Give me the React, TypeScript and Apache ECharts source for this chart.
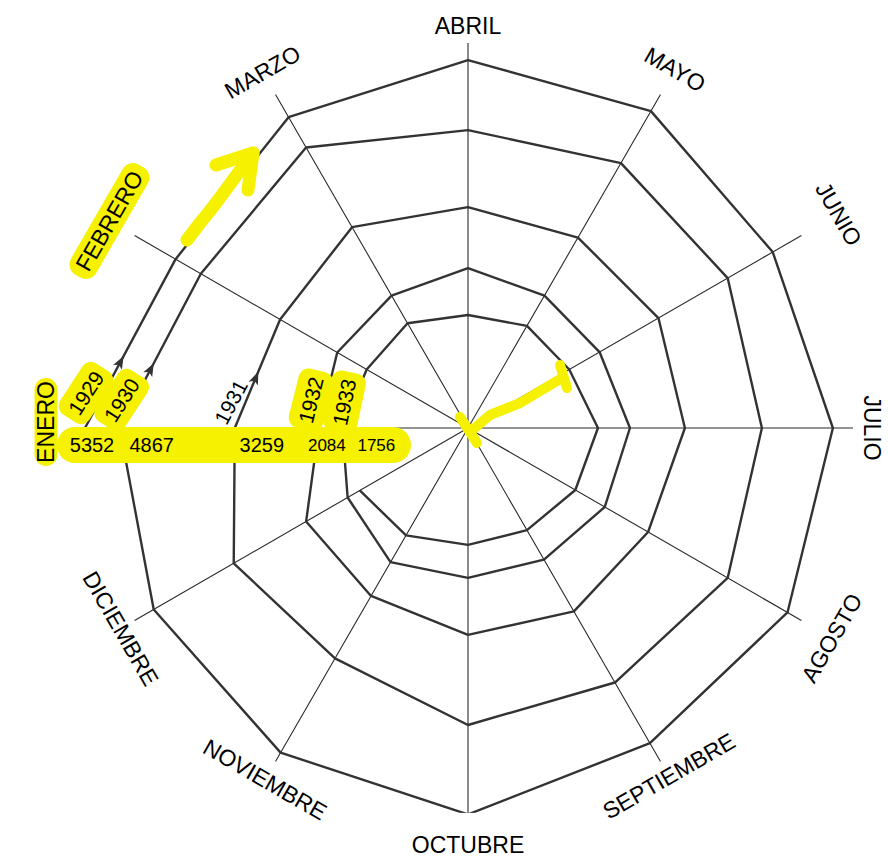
import React, { useEffect, useRef } from 'react';
import * as echarts from 'echarts';

// ---- data ----
const months = ['ENERO', 'FEBRERO', 'MARZO', 'ABRIL', 'MAYO', 'JUNIO', 'JULIO', 'AGOSTO', 'SEPTIEMBRE', 'OCTUBRE', 'NOVIEMBRE', 'DICIEMBRE'];
const years = ['1929', '1930', '1931', '1932', '1933'];
const trade1929 = [5352, 4718, 5015, 5141, 5113, 4917, 5099, 5155, 5085, 5400, 5238, 5071];
const trade1930 = [4867, 4311, 4526, 4163, 4275, 4190, 4107, 4190, 4107, 4150, 3717, 3780];
const trade1931 = [3259, 3032, 3241, 3087, 3073, 3073, 3031, 2906, 2960, 2890, 2710, 2612];
const trade1932 = [2084, 2110, 2137, 2235, 2137, 2123, 2263, 2207, 2123, 2095, 2165, 1942];
const trade1933 = [1756, 1635, 1690, 1579, 1648, 1634, 1816, 1732, 1648, 1634, 1732, 1746];
const tradeByYear = [trade1929, trade1930, trade1931, trade1932, trade1933];

// ---- layout / style ----
const CENTER = [468, 428];
const RADIUS = 385;
const R_MAX = 5380;
const monthLabelPx = [422, 414, 411, 402, 414, 428, 404, 420, 402, 417, 406, 401];
const monthLabelShift = [[0, -6], [0, 0], [0, 0], [0, 0], [0, 0], [0, 0], [0, 0], [0, 0], [0, 0], [0, 0], [0, 0], [0, 0]];
const YELLOW = '#f5f100';
const FONT = '"Liberation Sans", Arial, sans-serif';
const monthRotate = [90, 60, 30, 0, -30, -60, -90, 60, 30, 0, -30, -60];
const monthHighlight = [true, true, false, false, false, false, false, false, false, false, false, false];
const yearRotate = [57, 57, 62, 76, 78];
const yearOffset = [[1, -35], [2, -28], [-4, -26], [-8, -28], [2, -26]];
const yearHighlight = [true, true, false, true, true];
const numOffset = [7, 32, 27, 8, 34];
const numFont = [20, 20, 20, 17, 17];
const arrowT = [0.39, 0.38, 0.46];

export default function App() {
  const ref = useRef<HTMLDivElement>(null);
  useEffect(() => {
    const chart = echarts.init(ref.current!, null, { renderer: 'svg' });
    const spiral: number[][] = [];
    tradeByYear.forEach((arr) => arr.forEach((v, m) => spiral.push([v, m])));

    const monthData = months.map((name, i) => [(monthLabelPx[i] / RADIUS) * R_MAX, i]);
    const annoData = years.map((y, i) => [tradeByYear[i][0], 0, tradeByYear[i][1]]);

    chart.setOption({
      animation: false,
      backgroundColor: '#fff',
      polar: { center: CENTER, radius: RADIUS },
      angleAxis: {
        type: 'value',
        min: 0,
        max: 12,
        interval: 1,
        startAngle: 180,
        clockwise: true,
        axisLine: { show: false },
        axisTick: { show: false },
        axisLabel: { show: false },
        splitLine: { show: true, lineStyle: { color: '#2a2a2a', width: 1.1 } },
      },
      radiusAxis: {
        type: 'value',
        min: 0,
        max: R_MAX,
        axisLine: { show: false },
        axisTick: { show: false },
        axisLabel: { show: false },
        splitLine: { show: false },
      },
      graphic: [
        {
          type: 'rect',
          z: 3,
          shape: { x: 57, y: 427, width: 354, height: 36, r: 18 },
          style: { fill: YELLOW },
        },
        {
          type: 'polyline',
          z: 3,
          shape: { points: [[187, 240], [200, 223], [213, 207], [233, 180], [253, 153]] },
          style: { stroke: YELLOW, lineWidth: 13, lineCap: 'round', lineJoin: 'round', fill: 'none' },
        },
        {
          type: 'polyline',
          z: 3,
          shape: { points: [[216, 165], [253, 153], [248, 190]] },
          style: { stroke: YELLOW, lineWidth: 13, lineCap: 'round', lineJoin: 'round', fill: 'none' },
        },
        {
          type: 'polyline',
          z: 3,
          shape: { points: [[460, 417], [477, 443]] },
          style: { stroke: YELLOW, lineWidth: 10, lineCap: 'round', fill: 'none' },
        },
        {
          type: 'polyline',
          z: 3,
          shape: { points: [[470, 432], [490, 415], [520, 403], [562, 378]] },
          style: { stroke: YELLOW, lineWidth: 10, lineCap: 'round', lineJoin: 'round', fill: 'none' },
        },
        {
          type: 'polyline',
          z: 3,
          shape: { points: [[560, 365], [567, 388]] },
          style: { stroke: YELLOW, lineWidth: 10, lineCap: 'round', fill: 'none' },
        },
      ],
      series: [
        {
          type: 'line',
          coordinateSystem: 'polar',
          data: spiral,
          symbol: 'none',
          clip: false,
          z: 2,
          lineStyle: { color: '#333', width: 2.4 },
        },
        {
          type: 'custom',
          coordinateSystem: 'polar',
          data: monthData,
          z: 5,
          renderItem: (params: any, api: any) => {
            const i = params.dataIndex;
            const p = api.coord([api.value(0), api.value(1)]);
            const hl = monthHighlight[i];
            return {
              type: 'text',
              x: p[0] + monthLabelShift[i][0],
              y: p[1] + monthLabelShift[i][1],
              rotation: (monthRotate[i] * Math.PI) / 180,
              style: {
                text: months[i],
                fill: '#000',
                fontSize: 23,
                fontFamily: FONT,
                align: 'center',
                verticalAlign: 'middle',
                backgroundColor: hl ? YELLOW : 'transparent',
                padding: hl ? (i === 0 ? [0, 3] : [3, 8]) : 0,
                borderRadius: 12,
              },
            };
          },
        },
        {
          type: 'custom',
          coordinateSystem: 'polar',
          data: annoData,
          z: 6,
          renderItem: (params: any, api: any) => {
            const i = params.dataIndex;
            const p0 = api.coord([api.value(0), 0]);
            const p1 = api.coord([api.value(2), 1]);
            const children: any[] = [];
            if (i < arrowT.length) {
              const t = arrowT[i];
              const dx = p1[0] - p0[0];
              const dy = p1[1] - p0[1];
              const len = Math.sqrt(dx * dx + dy * dy);
              const ux = dx / len;
              const uy = dy / len;
              const nx = -uy;
              const ny = ux;
              const px = p0[0] + dx * t;
              const py = p0[1] + dy * t;
              children.push({
                type: 'polygon',
                shape: {
                  points: [
                    [px + ux * 7, py + uy * 7],
                    [px - ux * 6 + nx * 5, py - uy * 6 + ny * 5],
                    [px - ux * 3, py - uy * 3],
                    [px - ux * 6 - nx * 5, py - uy * 6 - ny * 5],
                  ],
                },
                style: { fill: '#333' },
              });
            }
            children.push({
              type: 'text',
              x: p0[0] + yearOffset[i][0],
              y: p0[1] + yearOffset[i][1],
              rotation: (yearRotate[i] * Math.PI) / 180,
              style: {
                text: years[i],
                fill: '#000',
                fontSize: 21,
                fontFamily: FONT,
                align: 'center',
                verticalAlign: 'middle',
                backgroundColor: yearHighlight[i] ? YELLOW : 'transparent',
                padding: [7, 7],
                borderRadius: 10,
              },
            });
            children.push({
              type: 'text',
              x: p0[0] + numOffset[i],
              y: p0[1] + 17,
              style: {
                text: String(tradeByYear[i][0]),
                fill: '#000',
                fontSize: numFont[i],
                fontFamily: FONT,
                align: 'center',
                verticalAlign: 'middle',
              },
            });
            return { type: 'group', children };
          },
        },
      ],
    });
    return () => chart.dispose();
  }, []);
  return <div ref={ref} style={{ position: 'absolute', left: 0, top: 0, width: 888, height: 864 }} />;
}
